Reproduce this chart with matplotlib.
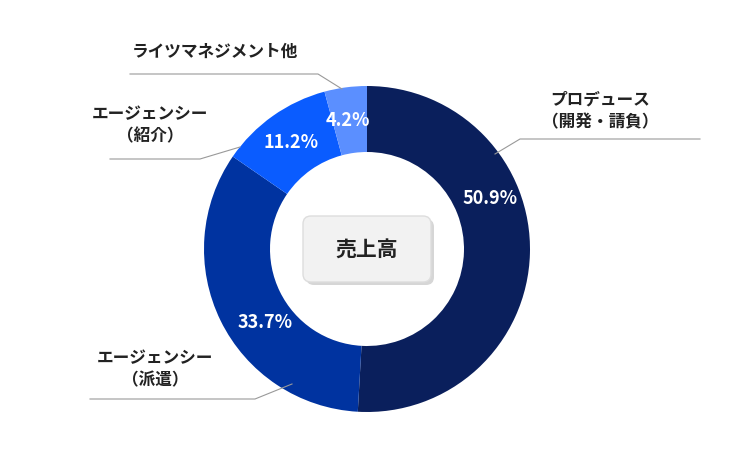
import matplotlib
matplotlib.use("Agg")
import matplotlib.pyplot as plt
from matplotlib.patches import FancyBboxPatch

categories = ["プロデュース\n（開発・請負）", "エージェンシー\n（派遣）", "エージェンシー\n（紹介）", "ライツマネジメント他"]
values = [50.9, 33.7, 11.2, 4.2]
pct_labels = ["50.9%", "33.7%", "11.2%", "4.2%"]
colors = ["#0a1f5c", "#0033a0", "#0a5cff", "#5b8fff"]
center_label = "売上高"

plt.rcParams["font.family"] = "Noto Sans CJK JP"
fig = plt.figure(figsize=(7.44, 4.6), dpi=100)
ax = fig.add_axes([0, 0, 1, 1])
ax.set_xlim(0, 744); ax.set_ylim(0, 460); ax.axis("off")

cx, cy, R, w = 367, 460 - 250, 163, 66
ax.pie(values, colors=colors, startangle=90, counterclock=False, center=(cx, cy),
       radius=R, wedgeprops=dict(width=w, linewidth=0), frame=True)
ax.set_xlim(0, 744); ax.set_ylim(0, 460); ax.axis("off")

pct_pos = [(490, 198), (265, 323), (291, 143), (348, 120)]
for t, (x, y) in zip(pct_labels, pct_pos):
    ax.text(x, 460 - y, t, color="white", fontsize=13, fontweight="bold", ha="center", va="center")

# center box with shadow
sh = FancyBboxPatch((cx - 64 + 3, cy - 33 - 3), 128, 66, boxstyle="round,pad=0,rounding_size=8",
                    fc="#bbbbbb", ec="none", alpha=0.6)
bx = FancyBboxPatch((cx - 64, cy - 33), 128, 66, boxstyle="round,pad=0,rounding_size=8",
                    fc="#f2f2f2", ec="#dddddd")
ax.add_patch(sh); ax.add_patch(bx)
ax.text(cx, cy, center_label, fontsize=15, fontweight="bold", ha="center", va="center", color="#222222")

lines = [[(495, 155), (520, 140), (700, 140)],
         [(292, 385), (255, 400), (90, 400)],
         [(240, 148), (200, 160), (110, 160)],
         [(342, 90), (318, 75), (130, 75)]]
text_pos = [(600, 111), (155, 369), (150, 125), (215, 52)]
for pts, cat, (tx, ty) in zip(lines, categories, text_pos):
    ax.plot([p[0] for p in pts], [460 - p[1] for p in pts], color="#999999", lw=0.8)
    ax.text(tx, 460 - ty, cat, fontsize=12, fontweight="bold", ha="center", va="center",
            color="#222222", linespacing=1.3)

fig.savefig("out.png", dpi=100)
